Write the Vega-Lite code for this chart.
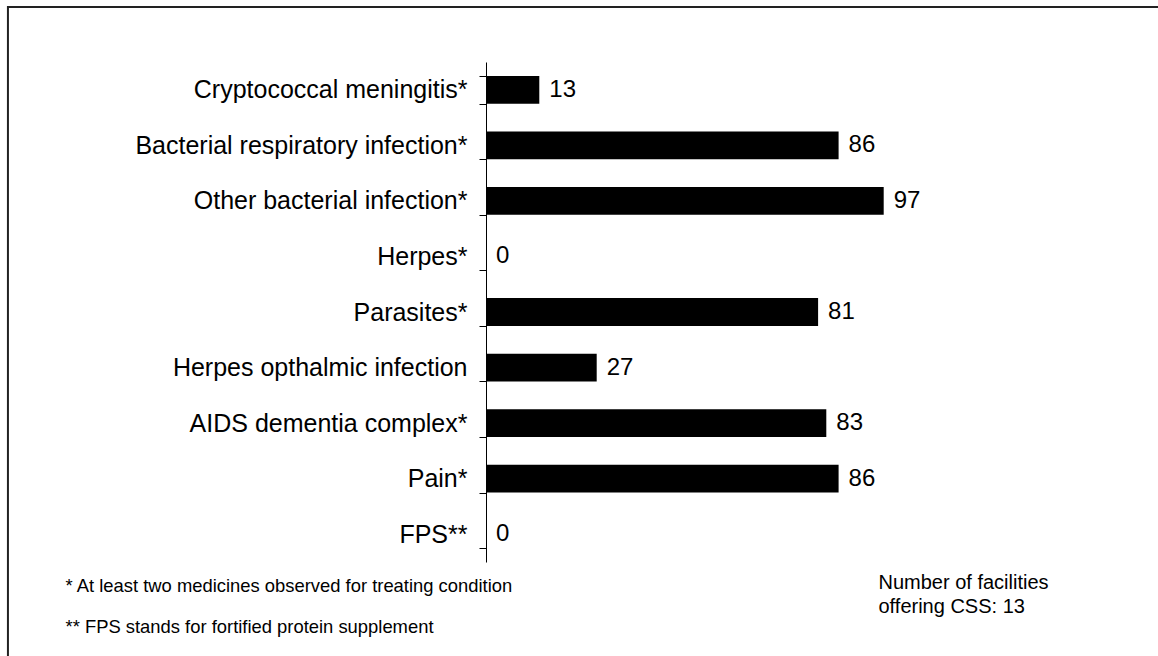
{
  "$schema": "https://vega.github.io/schema/vega-lite/v6.json",
  "width": 410,
  "height": 500,
  "autosize": {"type": "none"},
  "padding": {"left": 486, "top": 62, "right": 262, "bottom": 94},
  "background": "white",
  "config": {
    "view": {"stroke": null},
    "font": "Liberation Sans",
    "text": {"font": "Liberation Sans"}
  },
  "layer": [
    {
      "data": {
        "values": [
          {"condition": "Cryptococcal meningitis*", "value": 13},
          {"condition": "Bacterial respiratory infection*", "value": 86},
          {"condition": "Other bacterial infection*", "value": 97},
          {"condition": "Herpes*", "value": 0},
          {"condition": "Parasites*", "value": 81},
          {"condition": "Herpes opthalmic infection", "value": 27},
          {"condition": "AIDS dementia complex*", "value": 83},
          {"condition": "Pain*", "value": 86},
          {"condition": "FPS**", "value": 0}
        ]
      },
      "encoding": {
        "y": {
          "field": "condition",
          "type": "nominal",
          "sort": null,
          "scale": {"paddingInner": 0.5, "paddingOuter": 0.25},
          "axis": {
            "title": ["Number of facilities", "offering CSS: 13"],
            "titleFont": "Liberation Sans",
            "titleFontSize": 20,
            "titleFontWeight": "normal",
            "titleColor": "black",
            "titleAngle": 0,
            "titleAlign": "left",
            "titleBaseline": "alphabetic",
            "titleLineHeight": 24,
            "titleX": 392,
            "titleY": 526,
            "labelFont": "Liberation Sans",
            "labelFontSize": 25,
            "labelColor": "black",
            "labelPadding": 12,
            "labelLimit": 600,
            "tickBand": "extent",
            "tickSize": 7,
            "tickColor": "black",
            "tickWidth": 1,
            "domainColor": "black",
            "domainWidth": 1,
            "grid": false
          }
        },
        "x": {
          "field": "value",
          "type": "quantitative",
          "scale": {"domain": [0, 100], "nice": false},
          "axis": {
            "title": ["* At least two medicines observed for treating condition", "** FPS stands for fortified protein supplement"],
            "titleFont": "Liberation Sans",
            "titleFontSize": 18.4,
            "titleFontWeight": "normal",
            "titleColor": "black",
            "titleAlign": "left",
            "titleBaseline": "alphabetic",
            "titleLineHeight": 41,
            "titleX": -421,
            "titleY": 29,
            "domain": false,
            "ticks": false,
            "labels": false,
            "grid": false
          }
        }
      },
      "layer": [
        {"mark": {"type": "bar", "color": "black"}},
        {
          "mark": {"type": "text", "align": "left", "baseline": "middle", "dx": 10, "fontSize": 24, "font": "Liberation Sans", "color": "black"},
          "encoding": {"text": {"field": "value", "type": "quantitative"}}
        }
      ]
    },
    {
      "data": {"values": [{}]},
      "mark": {"type": "rect", "fill": null, "stroke": "#222222", "strokeWidth": 2, "clip": false},
      "encoding": {
        "x": {"datum": -116.6, "type": "quantitative"},
        "x2": {"datum": 250},
        "y": {"datum": 555, "type": "quantitative", "scale": {"domain": [0, 500], "nice": false}, "axis": null},
        "y2": {"datum": -150}
      }
    }
  ],
  "resolve": {"scale": {"y": "independent"}, "axis": {"y": "independent"}}
}
